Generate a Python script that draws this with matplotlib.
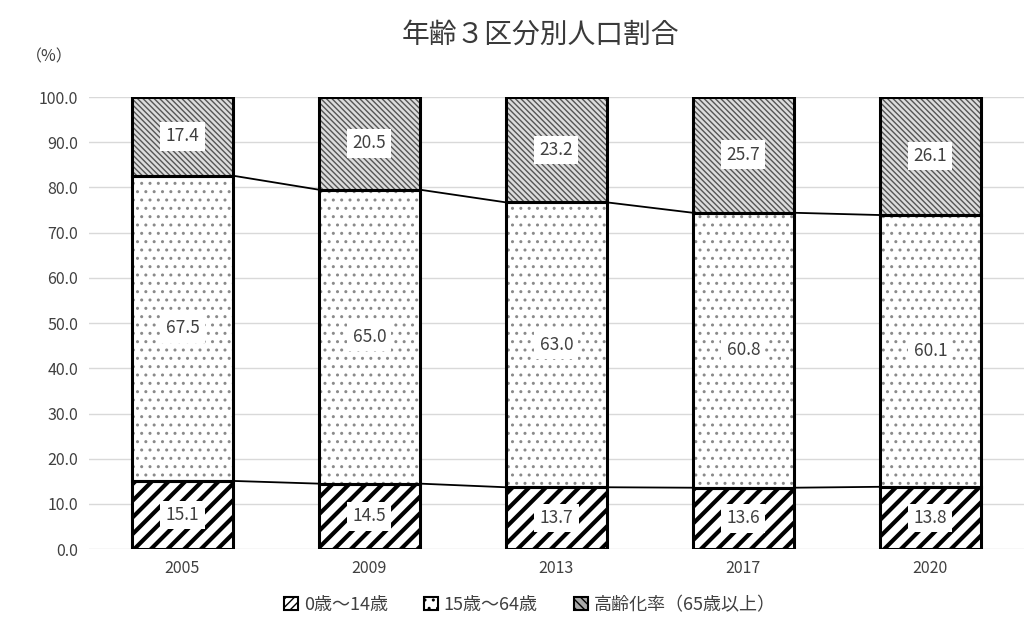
import numpy as np
import matplotlib
matplotlib.use("Agg")
from matplotlib import pyplot as plt
from matplotlib.patches import Patch

plt.rcParams['font.family'] = ['Noto Sans CJK JP', 'DejaVu Sans']

years = ['2005', '2009', '2013', '2017', '2020']
young = [15.1, 14.5, 13.7, 13.6, 13.8]
working = [67.5, 65.0, 63.0, 60.8, 60.1]
elderly = [17.4, 20.5, 23.2, 25.7, 26.1]
labels = ['0歳～14歳', '15歳～64歳', '高齢化率（65歳以上）']

x = np.arange(len(years))
w = 0.54
y0 = np.array(young)
y1 = y0 + np.array(working)

fig = plt.figure(figsize=(10.29, 6.32), dpi=100)
ax = fig.add_axes([0.0865, 0.131, 0.9085, 0.7155])

gray = '#404040'
ax.set_ylim(0, 100)
ax.set_xlim(-0.5, 4.5)
ax.set_yticks(np.arange(0, 101, 10))
ax.set_yticklabels([f'{v:.1f}' for v in range(0, 101, 10)])
ax.set_xticks(x)
ax.set_xticklabels(years)
ax.tick_params(length=0, labelsize=11.5, colors=gray, pad=8)
ax.yaxis.grid(True, color='#d9d9d9', lw=1)
ax.set_axisbelow(True)
for s in ax.spines.values():
    s.set_visible(False)

# hatched fills (hatch colour comes from edgecolor)
plt.rcParams['hatch.linewidth'] = 3.0
b1 = ax.bar(x, young, w, color='white', edgecolor='black', hatch='//', lw=0)
plt.rcParams['hatch.linewidth'] = 1.0
b2 = ax.bar(x, working, w, bottom=y0, color='white', edgecolor='#8a8a8a', hatch='..', lw=0)
plt.rcParams['hatch.linewidth'] = 1.0
b3 = ax.bar(x, elderly, w, bottom=y1, color='#dcdcdc', edgecolor='#555555', hatch='\\\\\\\\\\\\', lw=0)

# outlines
for vals, bot in [(young, 0), (working, y0), (elderly, y1)]:
    ax.bar(x, vals, w, bottom=bot, fill=False, edgecolor='black', lw=2.2)

# series lines between bars
for top in (y0, y1):
    for i in range(len(x) - 1):
        ax.plot([x[i] + w / 2, x[i + 1] - w / 2], [top[i], top[i + 1]], color='black', lw=1.3)

box = dict(boxstyle='square,pad=0.3', fc='white', ec='none')
for i in range(len(x)):
    ax.text(x[i], young[i] / 2, f'{young[i]:.1f}', ha='center', va='center', fontsize=12.5, color=gray, bbox=box)
    ax.text(x[i], y0[i] + working[i] / 2, f'{working[i]:.1f}', ha='center', va='center', fontsize=12.5, color=gray, bbox=box)
    ax.text(x[i], y1[i] + elderly[i] / 2, f'{elderly[i]:.1f}', ha='center', va='center', fontsize=12.5, color=gray, bbox=box)

fig.text(0.525, 0.945, '年齢３区分別人口割合', ha='center', va='center', fontsize=20, color='#3a3a3a')
fig.text(0.048, 0.91, '（%）', ha='center', va='center', fontsize=11.5, color=gray)

handles = [Patch(facecolor='white', edgecolor='black', hatch='////', lw=1.5),
           Patch(facecolor='white', edgecolor='black', hatch='..', lw=1.5),
           Patch(facecolor='#aaaaaa', edgecolor='black', hatch='\\\\\\\\', lw=1.5)]
fig.legend(handles, labels, loc='center', bbox_to_anchor=(0.515, 0.043), ncol=3, frameon=False,
           fontsize=13, labelcolor=gray, handlelength=0.8, handleheight=0.8,
           handletextpad=0.3, columnspacing=2.0)

fig.savefig('out.png', dpi=100)
